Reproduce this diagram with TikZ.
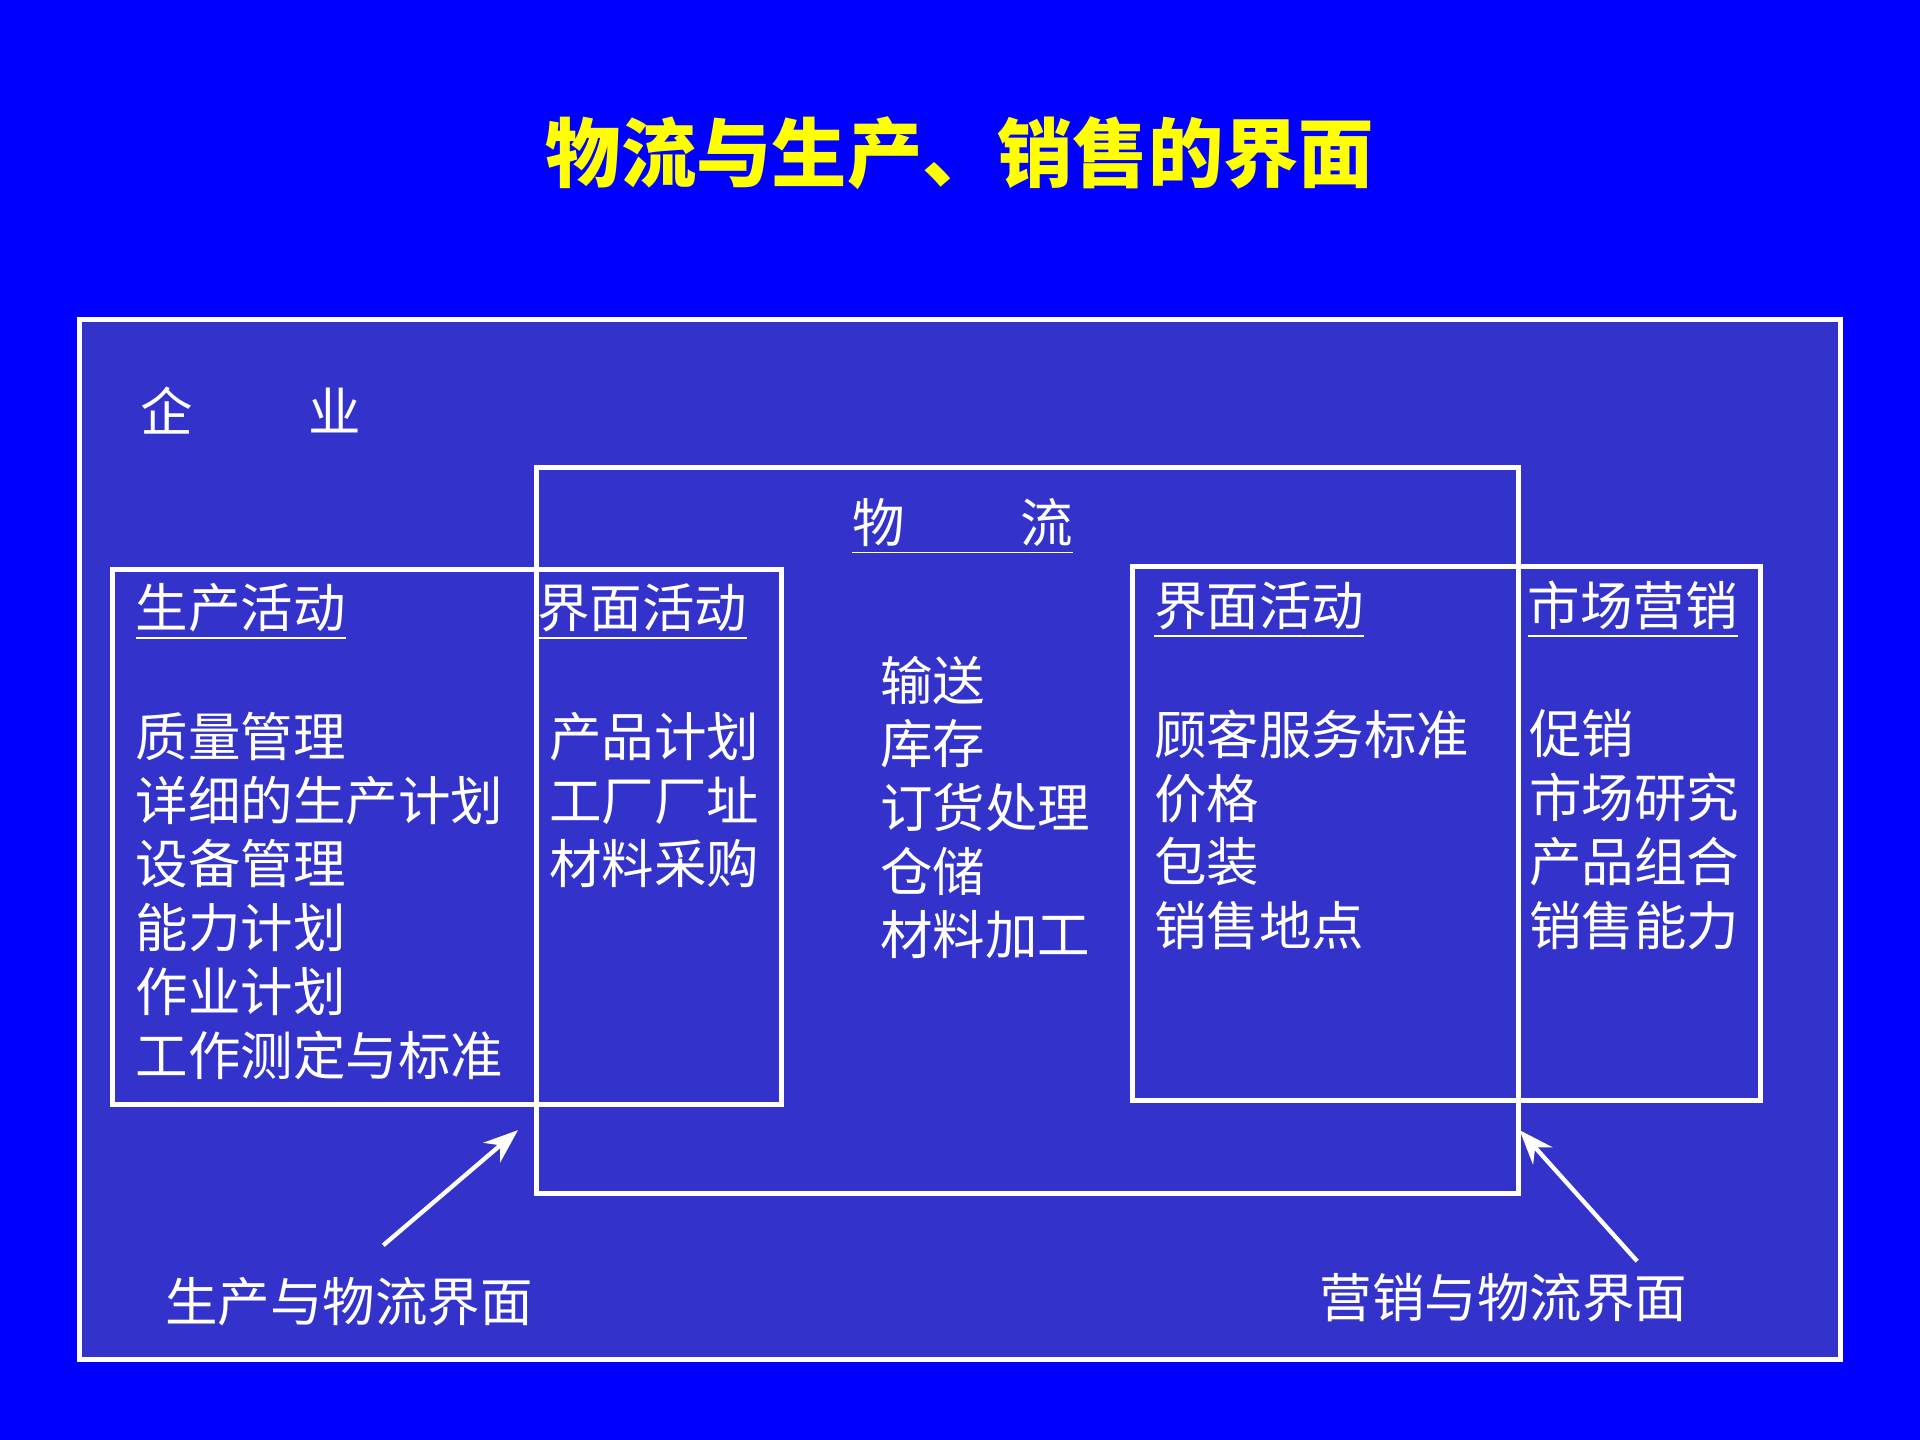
\documentclass[tikz,border=0pt]{standalone}
\usepackage{fontspec}
\setmainfont{Noto Sans CJK SC}
\usetikzlibrary{arrows.meta}
\definecolor{bg}{HTML}{0000FF}
\definecolor{panel}{HTML}{3333CC}
\definecolor{ttl}{HTML}{FFFF00}
\tikzset{
  frame/.style={draw=white,line width=1.2pt},
  txt/.style={text=white,font=\fontsize{12.2pt}{14.8pt}\selectfont,inner sep=0pt},
  lst/.style={txt,anchor=north west,align=left},
  hd/.style={txt,anchor=west},
  arr/.style={draw=white,line width=1pt,-{Stealth[length=8pt,width=6pt]}}
}
\begin{document}
\begin{tikzpicture}
\useasboundingbox (0,0) rectangle (15.68,11.76);
\fill[bg] (0,0) rectangle (15.68,11.76);
\draw[frame,fill=panel] (0.65,0.66) rectangle (15.03,9.15);
\draw[frame] (4.38,2.01) rectangle (12.40,7.94);
\draw[frame] (0.92,2.74) rectangle (6.38,7.11);
\draw[frame] (9.25,2.77) rectangle (14.38,7.13);
\node[text=ttl,font=\fontsize{17.5pt}{20pt}\selectfont\bfseries] (title) at (7.84,10.51) {物流与生产、销售的界面};
\node[txt] (qy) at (2.05,8.41) {企\hspace{2.2em}业};
\node[txt] (wl) at (7.86,7.46) {\underline{物\hspace{2.2em}流}};
\node[hd] (h1) at (1.10,6.76) {\underline{生产活动}};
\node[hd] (h2) at (4.38,6.76) {\underline{界面活动}};
\node[hd] (h3) at (9.42,6.78) {\underline{界面活动}};
\node[hd] (h4) at (12.47,6.78) {\underline{市场营销}};
\node[lst] (l1) at (1.10,5.95) {质量管理\\详细的生产计划\\设备管理\\能力计划\\作业计划\\工作测定与标准};
\node[lst] (l2) at (4.48,5.95) {产品计划\\工厂厂址\\材料采购};
\node[lst] (l3) at (7.18,6.41) {输送\\库存\\订货处理\\仓储\\材料加工};
\node[lst] (l4) at (9.42,5.97) {顾客服务标准\\价格\\包装\\销售地点};
\node[lst] (l5) at (12.48,5.97) {促销\\市场研究\\产品组合\\销售能力};
\node[txt] (b1) at (2.85,1.13) {生产与物流界面};
\node[txt] (b2) at (12.28,1.16) {营销与物流界面};
\coordinate (a1s) at (3.13,1.59);
\coordinate (a1e) at (4.23,2.53);
\coordinate (a2s) at (13.37,1.46);
\coordinate (a2e) at (12.41,2.53);
\draw[arr] (a1s) -- (a1e);
\draw[arr] (a2s) -- (a2e);
\end{tikzpicture}
\end{document}
